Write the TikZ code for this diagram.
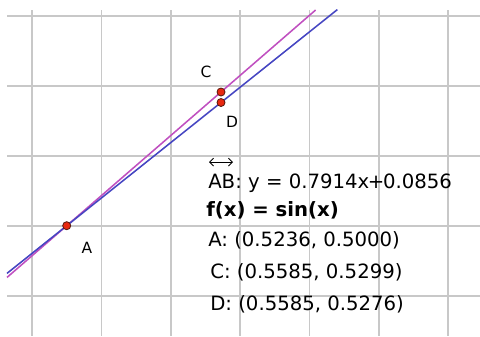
\documentclass[tikz,border=0pt]{standalone}
\usepackage{fontspec}
\setmainfont{DejaVu Sans}
\usetikzlibrary{arrows.meta,calc}
\definecolor{Grid}{HTML}{C8C8C8}
\definecolor{Mauve}{HTML}{C050C0}
\definecolor{Indigo}{HTML}{4646C2}
\definecolor{Dot}{HTML}{E82810}
\definecolor{DotRim}{HTML}{5A1A10}

\begin{document}
\begin{tikzpicture}[x=0.025cm,y=-0.025cm,
    gridline/.style={draw=Grid,line width=1.2pt},
    trace/.style={line width=1.1pt},
    pt/.style={circle,draw=DotRim,fill=Dot,line width=0.6pt,inner sep=0pt,
      minimum size=2mm},
    lbl/.style={font=\fontsize{11}{13}\selectfont,inner sep=0pt},
    readout/.style={font=\fontsize{14}{17}\selectfont,inner sep=0pt,
      anchor=base west}
  ]
    \useasboundingbox (0,0) rectangle (480,336);
    \foreach \x in {32.3,101.6,170.9,240.2,309.5,378.8,448.1}{
      \draw[gridline] (\x,10) -- (\x,336);
    }
    \foreach \y in {15.7,85.8,155.9,226,296.1}{
      \draw[gridline] (7,\y) -- (480,\y);
    }
    \coordinate (a) at (66.7,225.7);
    \coordinate (c) at (221,92);
    \coordinate (d) at (221,102.5);
    \draw[trace,Mauve] ($(a)!-0.387!(c)$) -- ($(a)!1.613!(c)$);
    \draw[trace,Indigo] ($(a)!-0.387!(d)$) -- ($(a)!1.754!(d)$);
    \node[pt] (A) at (a) {};
    \node[pt] (C) at (c) {};
    \node[pt] (D) at (d) {};
    \node[lbl] (labA) at (87,248) {A};
    \node[lbl] (labC) at (206,72) {C};
    \node[lbl] (labD) at (232,122) {D};
    % readout of the measurements
    \node[readout] (eqn) at (208,188) {AB: y = 0.7914x\kern-1pt+\kern-1pt0.0856};
    \draw[{Straight Barb[length=1mm]}-{Straight Barb[length=1mm]},line width=0.6pt]
      ($(eqn.north west)+(1,-11)$) -- ++(24,0);
    \node[readout,font=\fontsize{14}{17}\selectfont\bfseries] (fx) at (206,216)
      {f(x) = sin(x)};
    \node[readout] (ptA) at (208,246) {A: (0.5236, 0.5000)};
    \node[readout] (ptC) at (210,278) {C: (0.5585, 0.5299)};
    \node[readout] (ptD) at (210,310) {D: (0.5585, 0.5276)};
  \end{tikzpicture}
\end{document}
